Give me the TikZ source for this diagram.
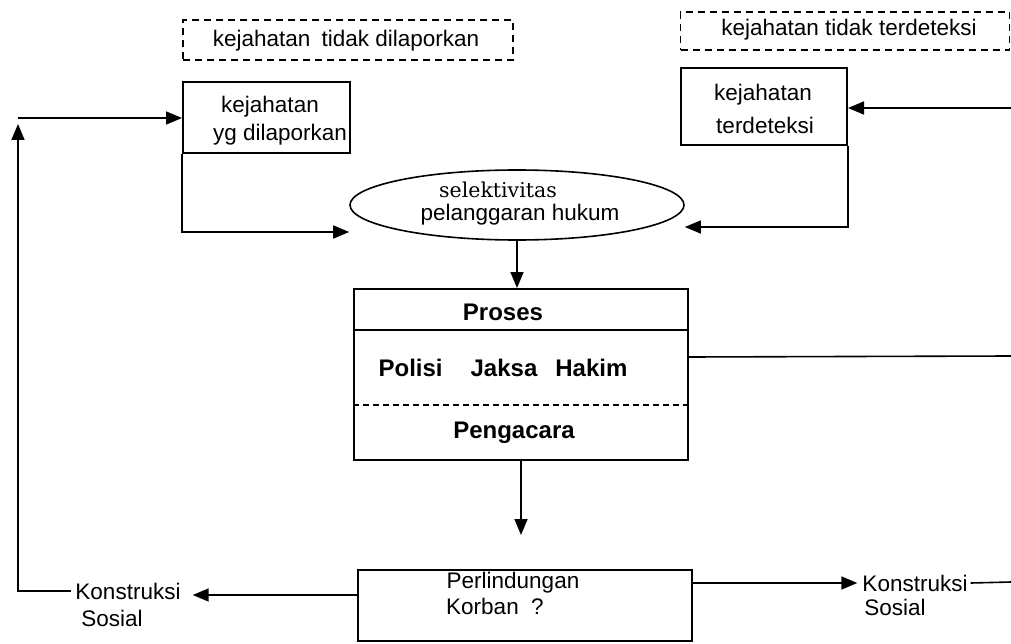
\documentclass[tikz,border=0pt]{standalone}
\usepackage{fontspec}
\setmainfont{Liberation Sans}
\newfontfamily\serifx{DejaVu Serif}
\usetikzlibrary{arrows.meta,shapes.geometric,calc}
\begin{document}
\begin{tikzpicture}[x=1pt,y=-1pt,
  box/.style={draw,line width=2pt,inner sep=0,rectangle},
  dbox/.style={draw,line width=1.4pt,dash pattern=on 7pt off 5pt,inner sep=0,rectangle},
  lbl/.style={inner sep=0,font=\fontsize{22.5}{26}\selectfont},
  slbl/.style={inner sep=0,font=\serifx\fontsize{20.5}{24}\selectfont},
  blbl/.style={inner sep=0,font=\fontsize{24}{28}\selectfont\bfseries},
  conn/.style={line width=1.6pt},
  arr/.style={conn,-{Triangle[length=16pt,width=13pt]}},
]
\useasboundingbox (0,0) rectangle (1011,644);

% boxes
\node[dbox,minimum width=330,minimum height=40] (d1) at (348,40) {};
\node[dbox,minimum width=329,minimum height=38] (d2) at (845,31) {};
\node[box,minimum width=167,minimum height=71] (rep) at (266.5,117.5) {};
\node[box,minimum width=166,minimum height=77] (det) at (764,106.5) {};
\node[draw,ellipse,line width=1.6pt,inner sep=0,minimum width=334,minimum height=70] (ell) at (517,205) {};
\node[box,minimum width=334,minimum height=171] (proc) at (521,374.5) {};
\node[box,minimum width=334,minimum height=71] (pl) at (525,605.5) {};

% inner lines of process box
\draw[line width=1.6pt] (proc.west |- 0,330) -- (proc.east |- 0,330);
\draw[line width=1.3pt,dash pattern=on 6pt off 4pt] (proc.west |- 0,405) -- (proc.east |- 0,405);

% texts
\node[lbl] (t1) at (346,41) {kejahatan\hspace{5pt} tidak dilaporkan};
\node[lbl] (t2) at (849,30) {kejahatan tidak terdeteksi};
\node[lbl] (r1) at (270,107) {kejahatan};
\node[lbl] (r2) at (280,135) {yg dilaporkan};
\node[lbl] (e1) at (763,95) {kejahatan};
\node[lbl] (e2) at (765,125) {terdeteksi};
\node[slbl] (s1) at (498,190) {selektivitas};
\node[lbl] (s2) at (520,215) {pelanggaran hukum};
\node[blbl] (p1) at (503,312) {Proses};
\node[blbl] (p2) at (503,368) {Polisi\hspace{28pt}Jaksa\hspace{18pt}Hakim};
\node[blbl] (p3) at (514,433) {Pengacara};
\node[lbl] (k1) at (513,583) {Perlindungan};
\node[lbl] (k2) at (495,606) {Korban\ \ ?};
\node[lbl] (ksA) at (128,591) {Konstruksi};
\node[lbl] (ksA2) at (112,618) {Sosial};
\node[lbl] (ksB) at (915,583) {Konstruksi};
\node[lbl] (ksB2) at (895,607) {Sosial};

% coordinates
\coordinate (cTL) at (18,118);
\coordinate (eR1) at (1011,108);
\coordinate (eR2) at (1011,356);
\coordinate (eR3) at (1011,582);
\coordinate (pd) at (521,535);

% connectors
\draw[arr,shorten >=6pt] ([xshift=-4pt]ksA.west) -| (cTL);
\draw[arr] (cTL) -- (cTL -| rep.west);
\draw[arr] (rep.south west) |- (ell.west |- 0,232);
\draw[arr] (eR1) -- (eR1 -| det.east);
\draw[arr] (det.south east) |- (ell.east |- 0,227);
\draw[arr] (ell.south) -- (proc.north -| ell.south);
\draw[conn] (proc.east |- 0,357) -- (eR2);
\draw[arr] (proc.south) -- (pd);
\draw[arr] (pl.west |- 0,595) -- ([xshift=12pt]ksA.east |- 0,595);
\draw[arr] (pl.east |- 0,583) -- ([xshift=-5pt]ksB.west |- 0,583);
\draw[conn] ([xshift=3pt]ksB.east) -- (eR3);
\end{tikzpicture}
\end{document}
